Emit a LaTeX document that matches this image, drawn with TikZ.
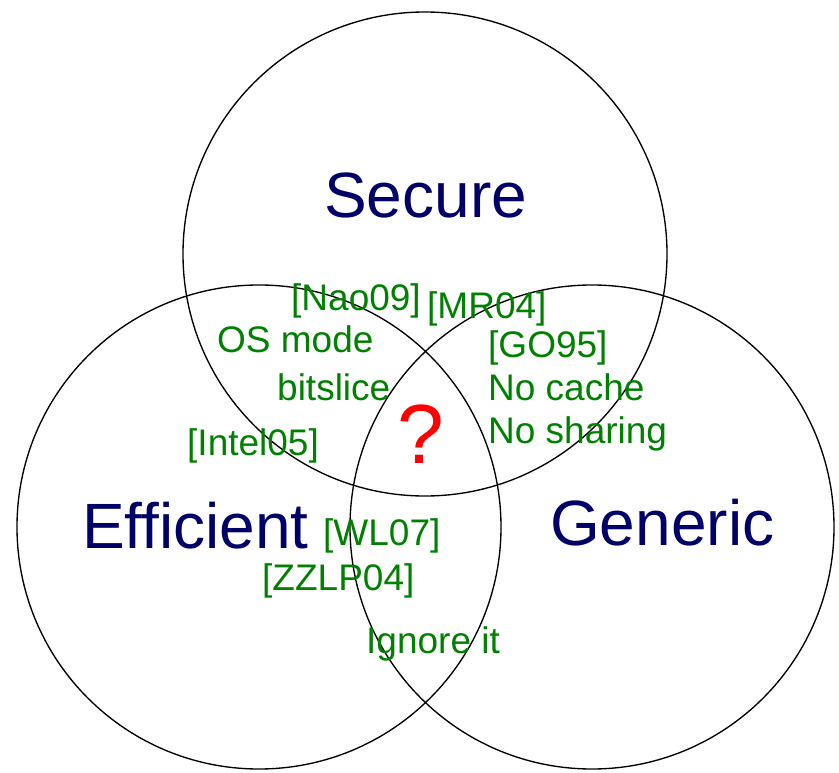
\documentclass[tikz,border=0pt]{standalone}
\usepackage{fontspec}
\setmainfont{Liberation Sans}
\definecolor{navy}{RGB}{0,0,102}
\definecolor{refgreen}{RGB}{0,128,0}
\tikzset{
  ring/.style={draw=black, line width=1.35pt},
  title/.style={text=navy, font=\fontsize{64}{70}\selectfont, inner sep=0pt, anchor=base west},
  cite/.style={text=refgreen, font=\fontsize{37}{42}\selectfont, inner sep=0pt, anchor=base west},
  quest/.style={text=red, font=\fontsize{84}{90}\selectfont, inner sep=0pt, anchor=base west}
}
\begin{document}
\begin{tikzpicture}[x=1pt,y=-1pt]
\useasboundingbox (0,0) rectangle (839,773);
\draw[ring] (425,254) circle (242);
\draw[ring] (259,527) circle (242);
\draw[ring] (592,527) circle (242);
\node[title] (secure) at (324,218) {Secure};
\node[title] (efficient) at (82,548) {Efficient};
\node[title] (generic) at (550,545) {Generic};
\node[cite] (nao) at (291,310) {[Nao09]};
\node[cite] (mr) at (427,318) {[MR04]};
\node[cite] (os) at (217,352) {OS mode};
\node[cite] (bits) at (277,400) {bitslice};
\node[cite] (intel) at (187,455) {[Intel05]};
\node[cite] (go) at (488,357) {[GO95]};
\node[cite] (cache) at (488,400) {No cache};
\node[cite] (share) at (488,443) {No sharing};
\node[cite] (wl) at (323,545) {[WL07]};
\node[cite] (zz) at (262,590) {[ZZLP04]};
\node[cite] (ign) at (366,653) {Ignore it};
\node[quest] (q) at (397,463) {?};
\end{tikzpicture}
\end{document}
